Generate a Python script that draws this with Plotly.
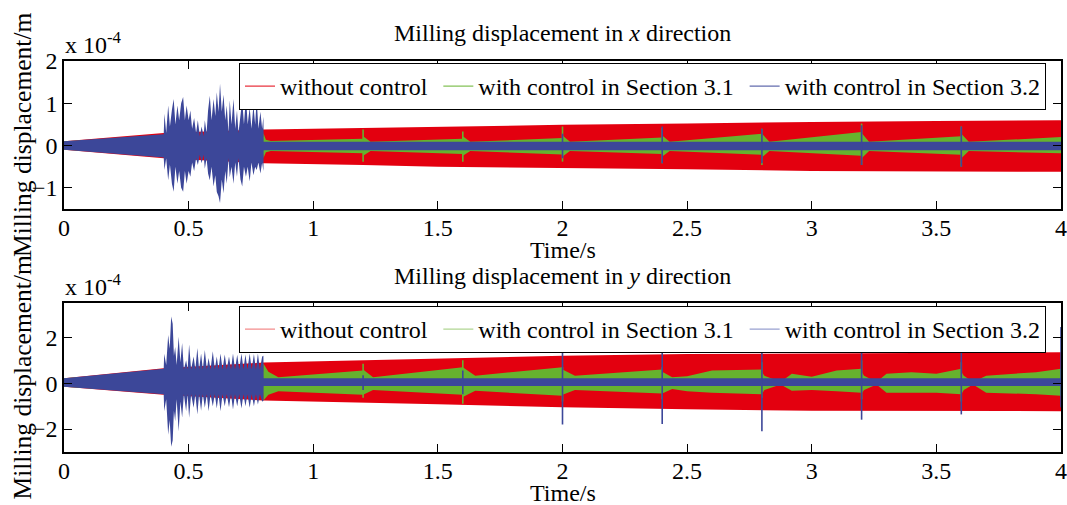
import plotly.graph_objects as go

W, H = 1067, 505
FONT = "Liberation Serif"
RED, GREEN, BLUE = "#E3000F", "#66B22E", "#3C4799"

# ---------------- data (units of 1e-4 m) ----------------
# x direction: envelopes
red_x_t = [0, 0.4, 0.8, 1.2, 1.5, 2.0, 2.5, 3.0, 3.5, 4.0]
red_x_up = [0.1, 0.3, 0.38, 0.42, 0.45, 0.49, 0.52, 0.56, 0.58, 0.6]
red_x_lo = [-0.1, -0.3, -0.42, -0.46, -0.5, -0.53, -0.56, -0.6, -0.61, -0.62]

green_x_t = [0, 0.4, 0.799, 0.8, 0.81, 0.83, 1.2, 1.2, 1.23, 1.6, 1.6, 1.63, 2.0, 2.0, 2.03,
             2.4, 2.4, 2.43, 2.8, 2.8, 2.83, 3.2, 3.2, 3.23, 3.6, 3.6, 3.63, 4.0]
green_x_up = [0.1, 0.2, 0.2, 0.3, 0.14, 0.11, 0.16, 0.22, 0.09, 0.16, 0.22, 0.09, 0.18, 0.24, 0.09,
              0.19, 0.24, 0.09, 0.28, 0.28, 0.09, 0.32, 0.3, 0.09, 0.22, 0.28, 0.09, 0.2]
green_x_lo = [-0.1, -0.2, -0.2, -0.3, -0.16, -0.13, -0.18, -0.24, -0.13, -0.2, -0.24, -0.13, -0.21, -0.26, -0.13,
              -0.2, -0.26, -0.13, -0.22, -0.28, -0.13, -0.24, -0.3, -0.13, -0.22, -0.3, -0.13, -0.18]

blue_x_t = [0, 0.400, 0.403, 0.41, 0.418, 0.425, 0.433, 0.44, 0.447, 0.455, 0.462, 0.47, 0.478, 0.485,
            0.492, 0.5, 0.507, 0.514, 0.522, 0.53, 0.537, 0.545, 0.552, 0.56, 0.565, 0.572, 0.578,
            0.585, 0.592, 0.6, 0.607, 0.613, 0.62, 0.626, 0.633, 0.64, 0.647, 0.653, 0.66, 0.665,
            0.672, 0.68, 0.687, 0.694, 0.7, 0.708, 0.715, 0.722, 0.73, 0.737, 0.745, 0.752, 0.76,
            0.767, 0.773, 0.78, 0.788, 0.795, 0.8, 0.801, 4.0]
blue_x_up = [0.1, 0.27, 0.75, 0.3, 0.95, 0.45, 0.85, 1.1, 0.5, 0.95, 0.6, 1.0, 1.15, 0.6,
             0.95, 0.6, 0.83, 0.4, 0.65, 0.3, 0.6, 0.22, 0.45, 0.22, 0.6, 0.3, 0.83,
             1.18, 0.6, 1.1, 0.7, 1.26, 0.8, 1.46, 0.8, 1.2, 0.6, 0.95, 0.3, 1.07,
             0.5, 1.1, 0.4, 0.83, 0.3, 0.8, 1.07, 0.5, 1.15, 0.5, 0.9, 0.4, 0.95,
             0.5, 1.1, 0.4, 0.8, 0.4, 0.68, 0.09, 0.09]
blue_x_lo = [-0.1, -0.28, -0.58, -0.3, -0.82, -0.45, -0.9, -1.09, -0.5, -0.9, -0.6, -1.0, -1.09, -0.6,
             -0.9, -0.6, -0.74, -0.4, -0.6, -0.3, -0.46, -0.22, -0.42, -0.22, -0.55, -0.3, -0.66,
             -0.82, -0.5, -0.97, -0.7, -1.1, -1.2, -1.36, -0.8, -1.13, -0.6, -0.9, -0.3, -0.75,
             -0.5, -0.9, -0.4, -0.74, -0.3, -0.8, -0.97, -0.5, -0.74, -0.5, -0.85, -0.4, -0.7,
             -0.5, -0.58, -0.4, -0.66, -0.4, -0.6, -0.11, -0.11]

green_x_spk_t = [1.2, 1.6, 2.0, 2.4, 2.8, 3.2, 3.6]
green_x_spk_hi = [0.38, 0.33, 0.45, 0.42, 0.4, 0.52, 0.45]
green_x_spk_lo = [-0.38, -0.38, -0.38, -0.42, -0.46, -0.46, -0.5]
blue_x_spk_t = [2.0, 2.4, 2.8, 3.2, 3.6]
blue_x_spk_hi = [0.28, 0.45, 0.4, 0.48, 0.45]
blue_x_spk_lo = [-0.3, -0.42, -0.42, -0.46, -0.5]

# y direction: envelopes
red_y_t = [0, 0.4, 0.8, 1.2, 1.5, 2.0, 2.5, 3.0, 3.5, 4.0]
red_y_up = [0.22, 0.65, 0.9, 1.0, 1.07, 1.2, 1.27, 1.29, 1.32, 1.35]
red_y_lo = [-0.15, -0.5, -0.75, -0.85, -0.92, -1.05, -1.14, -1.2, -1.22, -1.22]

green_y_t = [0, 0.4, 0.799, 0.8, 0.82, 0.86, 1.2, 1.2, 1.24, 1.6, 1.6, 1.65, 2.0, 2.0, 2.05,
             2.4, 2.4, 2.44, 2.5, 2.6, 2.8, 2.8, 2.81, 2.875, 2.92, 3.0, 3.1, 3.2, 3.2, 3.21,
             3.26, 3.3, 3.4, 3.5, 3.6, 3.6, 3.61, 3.647, 3.7, 3.9, 4.0]
green_y_up = [0.22, 0.5, 0.5, 0.86, 0.5, 0.26, 0.55, 0.6, 0.26, 0.7, 0.7, 0.33, 0.7, 0.6, 0.33,
              0.6, 0.5, 0.26, 0.3, 0.55, 0.6, 0.5, 0.33, 0.05, 0.41, 0.28, 0.55, 0.63, 0.5, 0.33,
              0.05, 0.41, 0.48, 0.41, 0.63, 0.5, 0.33, 0.05, 0.33, 0.48, 0.63]
green_y_lo = [-0.15, -0.4, -0.4, -0.75, -0.5, -0.35, -0.5, -0.5, -0.3, -0.5, -0.6, -0.33, -0.55, -0.5, -0.3,
              -0.45, -0.45, -0.25, -0.35, -0.41, -0.48, -0.45, -0.3, -0.05, -0.33, -0.3, -0.35, -0.41, -0.45, -0.3,
              -0.05, -0.41, -0.41, -0.41, -0.48, -0.45, -0.3, -0.05, -0.41, -0.48, -0.55]

blue_y_t = [0, 0.400, 0.402, 0.41, 0.418, 0.424, 0.43, 0.436, 0.441, 0.446, 0.452, 0.46, 0.467, 0.474,
            0.481, 0.49, 0.496, 0.502, 0.51, 0.52, 0.527, 0.535, 0.542, 0.55, 0.557, 0.565, 0.573,
            0.58, 0.588, 0.597, 0.605, 0.613, 0.62, 0.628, 0.636, 0.645, 0.653, 0.662, 0.67, 0.678,
            0.686, 0.695, 0.703, 0.712, 0.72, 0.728, 0.736, 0.745, 0.753, 0.762, 0.77, 0.778, 0.786,
            0.795, 0.8, 0.801, 4.0]
blue_y_up = [0.22, 0.63, 1.29, 0.8, 2.1, 1.5, 2.91, 2.6, 1.2, 1.58, 0.8, 2.03, 0.9, 1.75,
             0.6, 1.0, 0.6, 1.69, 0.6, 1.17, 0.6, 1.54, 0.6, 1.3, 0.6, 1.45, 0.6,
             1.1, 0.6, 1.39, 0.6, 1.17, 0.6, 1.3, 0.6, 1.25, 0.6, 1.17, 0.6, 1.3,
             0.6, 1.24, 0.6, 1.3, 0.6, 1.25, 0.6, 1.3, 0.6, 1.28, 0.6, 1.3, 0.6,
             1.17, 1.2, 0.22, 0.22]
blue_y_lo = [-0.15, -0.48, -1.22, -0.7, -2.25, -1.6, -2.77, -2.5, -1.2, -1.66, -0.7, -2.1, -0.8, -1.5,
             -0.48, -1.22, -0.48, -1.51, -0.48, -1.07, -0.48, -1.36, -0.48, -1.2, -0.48, -1.07, -0.48,
             -1.22, -0.48, -1.0, -0.48, -1.1, -0.48, -1.22, -0.48, -1.0, -0.48, -1.05, -0.48, -1.15,
             -0.48, -1.0, -0.48, -1.1, -0.48, -1.0, -0.48, -1.07, -0.48, -1.0, -0.48, -0.93, -0.48,
             -0.8, -0.77, -0.12, -0.12]

green_y_spk_t = [1.2, 1.6, 2.0, 2.4, 2.8, 3.2, 3.6, 4.0]
green_y_spk_hi = [0.85, 1.0, 0.7, 0.7, 0.92, 1.0, 0.92, 0.63]
green_y_spk_lo = [-0.63, -0.9, -0.8, -0.7, -0.63, -0.7, -0.8, -0.55]
blue_y_spk_t = [1.2, 1.6, 2.0, 2.4, 2.8, 3.2, 3.6, 4.0]
blue_y_spk_hi = [0.35, 0.55, 1.66, 1.44, 1.66, 1.66, 1.66, 2.45]
blue_y_spk_lo = [-0.3, -0.48, -1.8, -1.78, -2.1, -1.59, -1.36, -1.05]

series_names = ["without control", "with control in Section 3.1", "with control in Section 3.2"]
x_ticks = [0, 0.5, 1, 1.5, 2, 2.5, 3, 3.5, 4]
x_ticktext = ["0", "0.5", "1", "1.5", "2", "2.5", "3", "3.5", "4"]
y1_ticks = [-1, 0, 1, 2]
y2_ticks = [-2, 0, 2]

# ---------------- figure ----------------
fig = go.Figure()


def band(t, up, lo, color, xa, ya):
    fig.add_trace(go.Scatter(x=list(t) + list(t)[::-1], y=list(up) + list(lo)[::-1],
                             fill="toself", fillcolor=color, mode="lines",
                             line=dict(width=0, color=color), hoverinfo="skip",
                             showlegend=False, xaxis=xa, yaxis=ya))


def spikes(t, hi, lo, color, xa, ya, width=1.6):
    xs, ys = [], []
    for ti, h, l in zip(t, hi, lo):
        xs += [ti, ti, None]
        ys += [l, h, None]
    fig.add_trace(go.Scatter(x=xs, y=ys, mode="lines", line=dict(color=color, width=width),
                             hoverinfo="skip", showlegend=False, xaxis=xa, yaxis=ya))


# top subplot
band(red_x_t, red_x_up, red_x_lo, RED, "x", "y")
band(green_x_t, green_x_up, green_x_lo, GREEN, "x", "y")
spikes(green_x_spk_t, green_x_spk_hi, green_x_spk_lo, GREEN, "x", "y")
band(blue_x_t, blue_x_up, blue_x_lo, BLUE, "x", "y")
spikes(blue_x_spk_t, blue_x_spk_hi, blue_x_spk_lo, BLUE, "x", "y")
# bottom subplot
band(red_y_t, red_y_up, red_y_lo, RED, "x2", "y2")
band(green_y_t, green_y_up, green_y_lo, GREEN, "x2", "y2")
spikes(green_y_spk_t, green_y_spk_hi, green_y_spk_lo, GREEN, "x2", "y2")
band(blue_y_t, blue_y_up, blue_y_lo, BLUE, "x2", "y2")
spikes(blue_y_spk_t, blue_y_spk_hi, blue_y_spk_lo, BLUE, "x2", "y2")

# legend entries (a trailing no-break space widens the gap between entries)
legend_labels = [series_names[0] + "\u00a0", series_names[1] + "\u00a0", series_names[2]]
for name, col in zip(legend_labels, [RED, GREEN, BLUE]):
    fig.add_trace(go.Scatter(x=[None], y=[None], mode="lines", line=dict(color=col, width=1),
                             name=name, legend="legend", xaxis="x", yaxis="y"))
for name, col in zip(legend_labels, ["#F07070", "#9CCB78", "#7F88C4"]):
    fig.add_trace(go.Scatter(x=[None], y=[None], mode="lines", line=dict(color=col, width=1),
                             name=name, legend="legend2", xaxis="x2", yaxis="y2"))

axis_common = dict(showline=True, linecolor="black", linewidth=1.5, mirror="allticks",
                   ticks="inside", ticklen=8, tickcolor="black", tickwidth=1,
                   showgrid=False, zeroline=False, automargin=False,
                   tickfont=dict(family=FONT, size=24, color="black"))

top_dom = [1 - 209 / H, 1 - 61 / H]
bot_dom = [1 - 452 / H, 1 - 303 / H]
xdom = [64 / W, 1061 / W]

legend_common = dict(orientation="h", bgcolor="white", bordercolor="black", borderwidth=1,
                     font=dict(family=FONT, size=24, color="black"),
                     xanchor="left", yanchor="top", itemwidth=30, tracegroupgap=0)

fig.update_layout(
    template="none",
    width=W, height=H, margin=dict(l=0, r=0, t=0, b=0, autoexpand=False),
    paper_bgcolor="white", plot_bgcolor="white",
    font=dict(family=FONT, size=24, color="black"),
    xaxis=dict(domain=xdom, range=[0, 4], anchor="y", tickvals=x_ticks, ticktext=x_ticktext,
               ticklabelstandoff=-4, **axis_common),
    yaxis=dict(domain=top_dom, range=[-1.5, 2], anchor="x", tickvals=y1_ticks, **axis_common),
    xaxis2=dict(domain=xdom, range=[0, 4], anchor="y2", tickvals=x_ticks, ticktext=x_ticktext,
                ticklabelstandoff=-4, **axis_common),
    yaxis2=dict(domain=bot_dom, range=[-3, 3.5], anchor="x2", tickvals=y2_ticks, **axis_common),
    legend=dict(x=239 / W, y=1 - 63 / H, **legend_common),
    legend2=dict(x=239 / W, y=1 - 306 / H, **legend_common),
    showlegend=True,
)

ann_font = dict(family=FONT, size=24, color="black")
annotations = [
    dict(text="Milling displacement in <i>x</i> direction", x=(64 + 1061) / 2 / W, y=1 - 33 / H),
    dict(text="Milling displacement in <i>y</i> direction", x=(64 + 1061) / 2 / W, y=1 - 276 / H),
    dict(text="Time/s", x=(64 + 1061) / 2 / W, y=1 - 250 / H),
    dict(text="Time/s", x=(64 + 1061) / 2 / W, y=1 - 493 / H),
]
for a in annotations:
    fig.add_annotation(xref="paper", yref="paper", showarrow=False, font=ann_font,
                       xanchor="center", yanchor="middle", **a)
for yc in [(61 + 209) / 2, (303 + 452) / 2]:
    fig.add_annotation(text="Milling displacement/m", xref="paper", yref="paper", x=22 / W, y=1 - yc / H,
                       textangle=-90, showarrow=False, font=dict(family=FONT, size=25.5, color="black"),
                       xanchor="center", yanchor="middle")
for ytop in [61, 303]:
    fig.add_annotation(text="x 10<sup>-4</sup>", xref="paper", yref="paper", x=63 / W, y=1 - (ytop - 1) / H,
                       showarrow=False, font=ann_font, xanchor="left", yanchor="bottom")

fig.write_html("out.html")
